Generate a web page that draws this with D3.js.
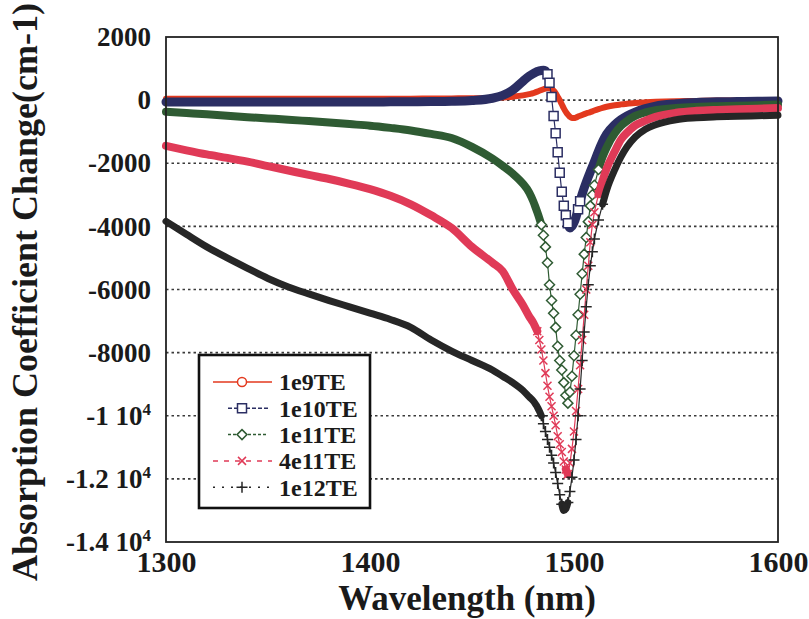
<!DOCTYPE html>
<html>
<head>
<meta charset="utf-8">
<script src="https://cdn.jsdelivr.net/npm/d3@7"></script>
<style>
  body { margin: 0; background: #fff; }
  svg text { font-family: "Liberation Serif", "Times New Roman", serif; font-weight: bold; fill: #1a1a1a; }
</style>
</head>
<body>
<svg id="chart" width="809" height="619"></svg>
<script>
// wavelength grid (nm), dense around the resonance
const wavelengths = [
  1300, 1310, 1320, 1330, 1340, 1350, 1360, 1370, 1380, 1390, 1400, 1410, 1420, 1430, 1440,
  1450, 1460, 1465, 1470, 1475, 1478,
  1480, 1481, 1482, 1483, 1484, 1485, 1486, 1487, 1488, 1489, 1490,
  1491, 1492, 1493, 1494, 1495, 1496, 1497, 1498, 1499, 1500,
  1501, 1502, 1503, 1504, 1505, 1506, 1507, 1508, 1509, 1510,
  1512, 1514, 1516, 1520, 1523, 1526, 1530, 1535, 1540, 1550, 1560, 1570, 1580, 1590, 1600
];

// absorption coefficient change (cm-1)
const te1e9 = [
  40, 40, 40, 40, 40, 40, 40, 40, 40, 40, 40, 40, 45, 50, 55,
  60, 70, 85, 110, 150, 190,
  220, 245, 270, 295, 320, 345, 365, 380, 380, 350, 300,
  220, 110, 0, -130, -260, -370, -460, -530, -570, -570,
  -550, -520, -495, -470, -445, -420, -400, -380, -355, -330,
  -285, -245, -210, -160, -135, -115, -90, -70, -55, -35, -25, -15, -10, -5, 0
];
const te1e10 = [
  -60, -60, -60, -60, -60, -60, -60, -60, -60, -60, -60, -55, -50, -45, -35,
  -10, 60, 150, 320, 600, 760,
  840, 875, 905, 925, 940, 945, 930, 820, 550, 100, -500,
  -1050, -1650, -2300, -2900, -3350, -3650, -3900, -4050, -4000, -3880,
  -3700, -3460, -3200, -2980, -2780, -2600, -2430, -2270, -2110, -1950,
  -1620, -1320, -1080, -780, -620, -500, -380, -270, -190, -115, -75, -55, -45, -35, -30
];
const te1e11 = [
  -370, -410, -450, -495, -540, -580, -620, -665, -710, -760, -810, -880, -960, -1070, -1200,
  -1480, -1850, -2080, -2330, -2650, -2920,
  -3200, -3370, -3550, -3740, -3950, -4280, -4650, -5150, -5850, -6350, -6750,
  -7200, -7800, -8250, -8550, -8950, -9350, -9600, -9250, -8750, -8100,
  -7450, -6800, -6150, -5500, -4880, -4350, -3850, -3350, -3000, -2700,
  -2200, -1800, -1500, -1050, -820, -660, -500, -390, -320, -250, -215, -195, -180, -160, -140
];
const te4e11 = [
  -1450, -1590, -1720, -1830, -1950, -2090, -2230, -2370, -2500, -2650, -2820, -3030, -3300, -3650, -4050,
  -4650, -5150, -5420, -6000, -6500, -6850,
  -7050, -7180, -7320, -7600, -7900, -8250, -8650, -9050, -9400, -9700, -10000,
  -10300, -10650, -10900, -11150, -11450, -11700, -11850, -11500, -11050, -10500,
  -9850, -9150, -8400, -7600, -6800, -6000, -5250, -4500, -3950, -3550,
  -2980, -2550, -2170, -1620, -1250, -1030, -800, -650, -530, -400, -340, -310, -290, -270, -250
];
const te1e12 = [
  -3840, -4250, -4650, -5000, -5330, -5650, -5920, -6140, -6350, -6550, -6750, -6950, -7200, -7600, -7950,
  -8250, -8550, -8750, -8950, -9200, -9400,
  -9530, -9620, -9720, -9850, -10000, -10250, -10500, -10750, -11000, -11250, -11500,
  -11800, -12150, -12500, -12800, -13000, -12950, -12750, -12400, -11950, -11400,
  -10750, -10000, -9150, -8250, -7350, -6550, -5850, -5250, -4800, -4400,
  -3800, -3300, -2850, -2200, -1800, -1480, -1170, -920, -780, -620, -560, -530, -510, -495, -480
];

const seriesNames = ["1e9TE", "1e10TE", "1e11TE", "4e11TE", "1e12TE"];
const seriesValues = [te1e9, te1e10, te1e11, te4e11, te1e12];
const seriesColors = ["#e3391e", "#2b2e63", "#2f5b33", "#e03a57", "#262626"];
const legendTextColors = ["#e0341c", "#262626", "#2c462c", "#e03a57", "#1e1e1e"];
const markerKinds = ["circle", "square", "diamond", "x", "plus"];
const legendDash = [null, "4,2", "3,2", "5,6", "2,7"];

const xTicks = [1300, 1400, 1500, 1600];
const yTicks = [2000, 0, -2000, -4000, -6000, -8000, -10000, -12000, -14000];
const gridTicks = [0, -2000, -4000, -6000, -8000, -10000, -12000];

const svg = d3.select("#chart");
const margin = { top: 37, right: 31, bottom: 77, left: 166 };
const W = 809, H = 619;

const x = d3.scaleLinear().domain([1300, 1600]).range([margin.left, W - margin.right]);
const y = d3.scaleLinear().domain([-14000, 2000]).range([H - margin.bottom, margin.top]);

const markerPaths = {
  circle: "M4.5,0A4.5,4.5 0 1,1 -4.5,0A4.5,4.5 0 1,1 4.5,0Z",
  square: "M-4.5,-4.5H4.5V4.5H-4.5Z",
  diamond: "M0,-5L5,0L0,5L-5,0Z",
  x: "M-4,-4L4,4M-4,4L4,-4",
  plus: "M-5.5,0H5.5M0,-5.5V5.5"
};
const bandWidth = [6, 9, 8, 8, 7];

// dotted horizontal grid
svg.append("g")
  .selectAll("line")
  .data(gridTicks)
  .join("line")
  .attr("x1", x(1300)).attr("x2", x(1600))
  .attr("y1", d => y(d)).attr("y2", d => y(d))
  .attr("stroke", "#3a3a3a")
  .attr("stroke-width", 1.6)
  .attr("stroke-dasharray", "2.5,3");

// series
const plot = svg.append("g");
seriesValues.forEach((vals, i) => {
  const pts = wavelengths.map((w, j) => ({ w, v: vals[j], px: x(w), py: y(vals[j]) }));
  // where points lie far apart (per nm) the markers show one by one,
  // elsewhere they merge into a thick band
  const runs = [];
  for (let j = 0; j < pts.length - 1; j++) {
    const a = pts[j], b = pts[j + 1];
    const perNm = Math.hypot(b.px - a.px, b.py - a.py) / (b.w - a.w);
    const sparse = perNm > 8;
    const last = runs[runs.length - 1];
    if (last && last.sparse === sparse) last.pts.push(b);
    else runs.push({ sparse, pts: [a, b] });
  }

  const g = plot.append("g");
  const smooth = d3.line().x(d => d.px).y(d => d.py).curve(d3.curveMonotoneX);
  const straight = d3.line().x(d => d.px).y(d => d.py);

  runs.forEach(run => {
    g.append("path")
      .attr("d", run.sparse ? straight(run.pts) : smooth(run.pts))
      .attr("fill", "none")
      .attr("stroke", seriesColors[i])
      .attr("stroke-width", run.sparse ? 1.2 : bandWidth[i])
      .attr("stroke-linecap", "round")
      .attr("stroke-linejoin", "round");
  });

  const markerPts = runs.filter(r => r.sparse).flatMap(r => r.pts);
  const filled = markerKinds[i] !== "x" && markerKinds[i] !== "plus";
  g.selectAll("path.mk")
    .data(markerPts)
    .join("path")
    .attr("class", "mk")
    .attr("transform", d => `translate(${d.px},${d.py})`)
    .attr("d", markerPaths[markerKinds[i]])
    .attr("fill", filled ? "#fff" : "none")
    .attr("stroke", seriesColors[i])
    .attr("stroke-width", 1.5);
});

// frame
svg.append("rect")
  .attr("x", x(1300)).attr("y", y(2000))
  .attr("width", x(1600) - x(1300)).attr("height", y(-14000) - y(2000))
  .attr("fill", "none")
  .attr("stroke", "#222")
  .attr("stroke-width", 1.8);

// axes
const xAxis = svg.append("g")
  .attr("transform", `translate(0,${y(-14000)})`)
  .call(d3.axisBottom(x).tickValues(xTicks).tickSize(0).tickPadding(9).tickFormat(d3.format("d")));
xAxis.select(".domain").remove();
xAxis.selectAll("text").style("font-size", "30px").attr("fill", "#1a1a1a");

const yAxis = svg.append("g")
  .attr("transform", `translate(${x(1300)},0)`)
  .call(d3.axisLeft(y).tickValues(yTicks).tickSize(0).tickPadding(15).tickFormat(() => ""));
yAxis.select(".domain").remove();
yAxis.selectAll("text")
  .style("font-size", "27px")
  .attr("fill", "#1a1a1a")
  .each(function (d) {
    const t = d3.select(this);
    if (Math.abs(d) >= 10000) {
      t.append("tspan").text(`${d / 10000} 10`);
      t.append("tspan").text("4").attr("dy", "-0.6em").style("font-size", "17px");
    } else {
      t.text(d);
    }
  });

// axis titles
svg.append("text")
  .attr("x", (x(1300) + x(1600)) / 2 - 5)
  .attr("y", 610)
  .attr("text-anchor", "middle")
  .style("font-size", "35px")
  .text("Wavelength (nm)");

svg.append("text")
  .attr("transform", "translate(37,292) rotate(-90)")
  .attr("text-anchor", "middle")
  .style("font-size", "36px")
  .text("Absorption Coefficient Change(cm-1)");

// legend
const legend = svg.append("g");
legend.append("rect")
  .attr("x", 199).attr("y", 355)
  .attr("width", 171).attr("height", 153)
  .attr("fill", "#fff")
  .attr("stroke", "#111")
  .attr("stroke-width", 2.6);

seriesNames.forEach((name, i) => {
  const ly = 382 + i * 26.3;
  const short = i === 1 || i === 2;
  legend.append("line")
    .attr("x1", short ? 228 : 213).attr("x2", short ? 268 : 272)
    .attr("y1", ly).attr("y2", ly)
    .attr("stroke", seriesColors[i])
    .attr("stroke-width", 1.5)
    .attr("stroke-dasharray", legendDash[i]);
  legend.append("path")
    .attr("transform", `translate(242,${ly})`)
    .attr("d", markerPaths[markerKinds[i]])
    .attr("fill", markerKinds[i] === "x" || markerKinds[i] === "plus" ? "none" : "#fff")
    .attr("stroke", seriesColors[i])
    .attr("stroke-width", 1.5);
  legend.append("text")
    .attr("x", 279).attr("y", ly)
    .attr("dy", "0.35em")
    .style("font-size", "24px")
    .attr("fill", legendTextColors[i])
    .text(name);
});
</script>
</body>
</html>
